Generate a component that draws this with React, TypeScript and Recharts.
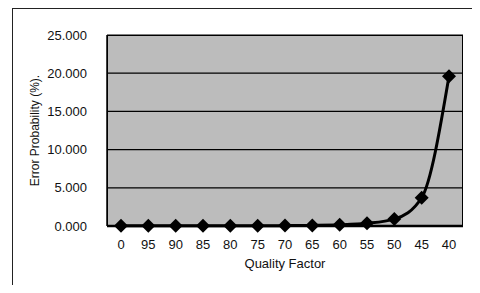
import React from "react";
import {
  LineChart,
  Line,
  XAxis,
  YAxis,
  CartesianGrid,
} from "recharts";

const qualityFactors = ["0", "95", "90", "85", "80", "75", "70", "65", "60", "55", "50", "45", "40"];
const errorProbability = [0.02, 0.02, 0.02, 0.02, 0.03, 0.03, 0.05, 0.08, 0.15, 0.35, 0.9, 3.7, 19.6];
const yTicks = [0, 5, 10, 15, 20, 25];

const data = qualityFactors.map((q, i) => ({ name: q, error: errorProbability[i] }));

const Diamond = (props: any) => {
  const { cx, cy } = props;
  if (cx == null || cy == null) return null;
  const r = 7;
  return (
    <path
      d={`M${cx},${cy - r} L${cx + r},${cy} L${cx},${cy + r} L${cx - r},${cy} Z`}
      fill="#000"
    />
  );
};

const font = "'Liberation Sans', Arial, sans-serif";

const App: React.FC = () => {
  return (
    <div style={{ position: "relative", width: 480, height: 293, margin: -8, background: "#fff" }}>
      <div
        style={{
          position: "absolute",
          left: 12,
          top: 8,
          width: 480,
          height: 283,
          borderLeft: "1.5px solid #222",
          borderTop: "1.5px solid #222",
          borderBottom: "1.5px solid #222",
        }}
      />
      <div style={{ position: "absolute", left: 0, top: 0 }}>
        <LineChart
          width={480}
          height={293}
          data={data}
          margin={{ top: 35, right: 17, left: 20, bottom: 22 }}
        >
          <CartesianGrid
            vertical={false}
            stroke="#000"
            strokeWidth={1.2}
            fill="#bcbcbc"
            fillOpacity={1}
          />
          <XAxis
            dataKey="name"
            height={45}
            stroke="#000"
            strokeWidth={2.5}
            tickLine={false}
            padding={{ left: 14, right: 14 }}
            tick={{ fill: "#111", fontSize: 13, fontFamily: font }}
            tickMargin={8}
            label={{
              value: "Quality Factor",
              position: "insideBottom",
              offset: 3,
              fill: "#111",
              fontSize: 13,
              fontFamily: font,
            }}
          />
          <YAxis
            width={87}
            domain={[0, 25]}
            ticks={yTicks}
            stroke="#000"
            strokeWidth={1.5}
            tickLine={false}
            tickFormatter={(v: number) => v.toFixed(3)}
            tick={{ fill: "#111", fontSize: 13, fontFamily: font }}
            tickMargin={14}
            label={{
              value: "Error Probability (%).",
              angle: -90,
              position: "insideLeft",
              offset: 15,
              style: { textAnchor: "middle" },
              fill: "#111",
              fontSize: 12,
              fontFamily: font,
            }}
          />
          <Line
            type="monotone"
            dataKey="error"
            stroke="#000"
            strokeWidth={3}
            dot={<Diamond />}
            activeDot={false}
            isAnimationActive={false}
          />
        </LineChart>
      </div>
      <div
        style={{
          position: "absolute",
          left: 107,
          top: 35,
          width: 356,
          height: 191,
          border: "1.5px solid #000",
          boxSizing: "border-box",
          pointerEvents: "none",
        }}
      />
    </div>
  );
};

export default App;
